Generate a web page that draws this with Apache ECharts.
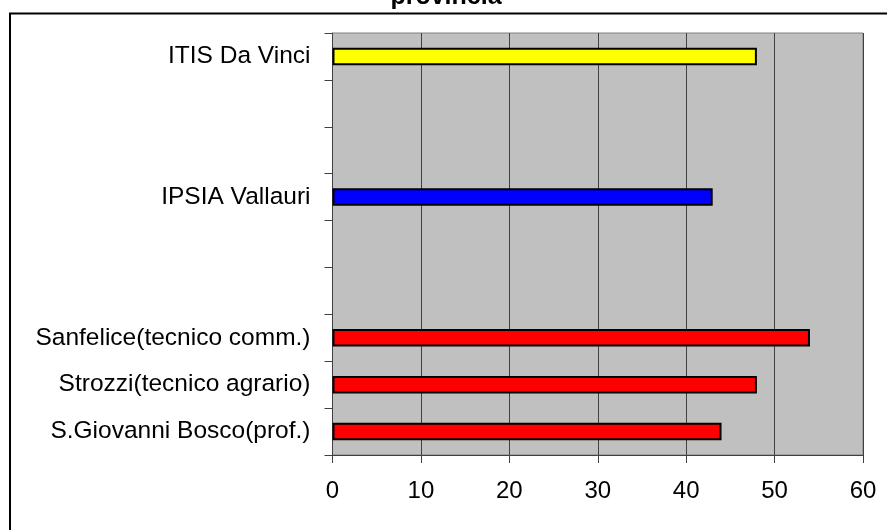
<!DOCTYPE html>
<html>
<head>
<meta charset="utf-8">
<script src="https://cdn.jsdelivr.net/npm/echarts@6/dist/echarts.min.js"></script>
<style>html,body{margin:0;padding:0;background:#fff}#c{width:887px;height:530px}</style>
</head>
<body>
<div id="c"></div>
<script>
var titleText = 'provincia';
var categories = ['ITIS Da Vinci', '', '', 'IPSIA Vallauri', '', '', 'Sanfelice(tecnico comm.)', 'Strozzi(tecnico agrario)', 'S.Giovanni Bosco(prof.)'];
var values = [48, null, null, 43, null, null, 54, 48, 44];
var xTicks = [0, 10, 20, 30, 40, 50, 60];
var barColors = ['#ffff00', null, null, '#0000ff', null, null, '#ff0000', '#ff0000', '#ff0000'];

var chart = echarts.init(document.getElementById('c'), null, {renderer: 'canvas'});
var seriesData = values.map(function (v, i) {
  return v == null ? '-' : {value: v, itemStyle: {color: barColors[i]}};
});
var font = 'Liberation Sans, Arial, sans-serif';
chart.setOption({
  animation: false,
  backgroundColor: '#ffffff',
  graphic: [
    {type: 'rect', shape: {x: 10, y: 13.5, width: 900, height: 600}, style: {fill: 'none', stroke: '#000', lineWidth: 2}, z: 100},
    {type: 'text', x: 446, y: 10, style: {text: titleText, font: 'bold 25px ' + font, fill: '#000', align: 'center', verticalAlign: 'bottom'}, z: 100}
  ],
  grid: {left: 332.5, right: 24, top: 33, bottom: 75, show: true, backgroundColor: '#c0c0c0', borderColor: '#808080', borderWidth: 1, containLabel: false},
  xAxis: {
    type: 'value', min: xTicks[0], max: xTicks[xTicks.length - 1], interval: 10,
    axisLine: {show: true, lineStyle: {color: '#404040', width: 1}},
    axisTick: {show: true, length: 8, lineStyle: {color: '#404040'}},
    axisLabel: {color: '#000', fontFamily: font, fontSize: 24, margin: 24},
    splitLine: {show: true, lineStyle: {color: '#404040', width: 1}}
  },
  yAxis: {
    type: 'category', data: categories, inverse: true,
    axisLine: {show: true, lineStyle: {color: '#404040', width: 1}},
    axisTick: {show: true, length: 8, lineStyle: {color: '#404040'}},
    axisLabel: {color: '#000', fontFamily: font, fontSize: 24.5, margin: 22, interval: 0},
    splitLine: {show: false}
  },
  series: [{
    type: 'bar', data: seriesData, barWidth: 17.5,
    itemStyle: {borderColor: '#000', borderWidth: 2}
  }]
});
</script>
</body>
</html>
